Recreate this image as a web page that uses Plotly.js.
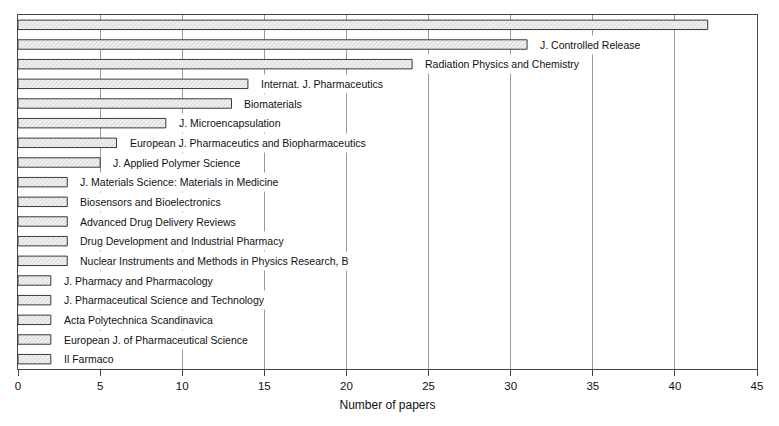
<!DOCTYPE html>
<html>
<head>
<meta charset="utf-8">
<script src="https://cdn.plot.ly/plotly-3.0.1.min.js"></script>
<style>html,body{margin:0;padding:0;background:#fff;}#chart{width:779px;height:426px;}</style>
</head>
<body>
<div id="chart"></div>
<script>
const journals = [
  "",
  "J. Controlled Release",
  "Radiation Physics and Chemistry",
  "Internat. J. Pharmaceutics",
  "Biomaterials",
  "J. Microencapsulation",
  "European J. Pharmaceutics and Biopharmaceutics",
  "J. Applied Polymer Science",
  "J. Materials Science: Materials in Medicine",
  "Biosensors and Bioelectronics",
  "Advanced Drug Delivery Reviews",
  "Drug Development and Industrial Pharmacy",
  "Nuclear Instruments and Methods in Physics Research, B",
  "J. Pharmacy and Pharmacology",
  "J. Pharmaceutical Science and Technology",
  "Acta Polytechnica Scandinavica",
  "European J. of Pharmaceutical Science",
  "Il Farmaco"
];
const papers = [42, 31, 24, 14, 13, 9, 6, 5, 3, 3, 3, 3, 3, 2, 2, 2, 2, 2];
const xTicks = [0, 5, 10, 15, 20, 25, 30, 35, 40, 45];

const positions = journals.map((_, i) => i);

const trace = {
  type: 'bar',
  orientation: 'h',
  x: papers,
  y: positions,
  marker: {
    color: '#f0f0f0',
    line: {color: '#3a3a3a', width: 1},
    pattern: {shape: '/', fgcolor: '#d2d2d2', bgcolor: '#f2f2f2', size: 3, solidity: 0.3}
  },
  hoverinfo: 'none'
};

const annotations = journals.map((name, i) => ({
  x: papers[i], y: i, xref: 'x', yref: 'y',
  text: name, showarrow: false, xanchor: 'left', yanchor: 'middle',
  xshift: 9, bgcolor: '#ffffff', borderpad: 3,
  font: {family: 'Liberation Sans, Arial, sans-serif', size: 10.5, color: '#111'}
})).filter(a => a.text !== "");

const layout = {
  width: 779, height: 426,
  margin: {l: 18, r: 22, t: 15, b: 57},
  paper_bgcolor: '#fff', plot_bgcolor: '#fff',
  showlegend: false,
  bargap: 0.52,
  font: {family: 'Liberation Sans, Arial, sans-serif', size: 11, color: '#111'},
  xaxis: {
    range: [0, 45], tickvals: xTicks, ticktext: xTicks.map(String),
    showgrid: true, gridcolor: '#999', gridwidth: 1,
    zeroline: false, showline: true, linecolor: '#444', linewidth: 1, mirror: true,
    ticks: 'outside', ticklen: 6, tickcolor: '#444',
    tickfont: {size: 11.5, color: '#111'},
    title: {text: 'Number of papers', font: {size: 12, color: '#111'}, standoff: 9}
  },
  yaxis: {
    range: [17.5, -0.5], tickvals: positions, showticklabels: false, ticks: '',
    showgrid: false, zeroline: false, showline: true, linecolor: '#444', linewidth: 1, mirror: true
  },
  annotations: annotations
};

Plotly.newPlot('chart', [trace], layout, {displayModeBar: false, staticPlot: true});
</script>
</body>
</html>
